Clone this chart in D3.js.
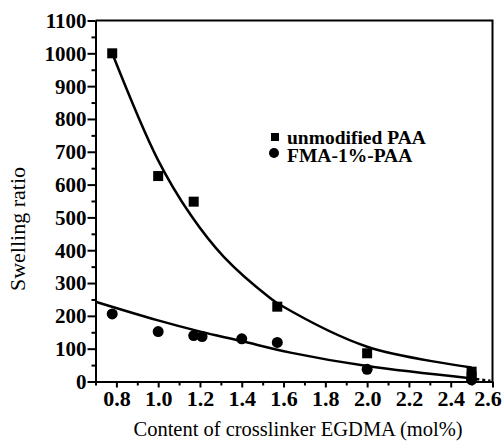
<!DOCTYPE html>
<html><head><meta charset="utf-8">
<script src="https://cdn.jsdelivr.net/npm/d3@7"></script>
<style>body{margin:0;background:#fff}svg{display:block}</style>
</head><body><svg id="c" width="503" height="446"></svg>
<script>
// Data
const unmodX = [0.78, 1.0, 1.17, 1.57, 2.0, 2.5, 2.5];
const unmodY = [1000, 626, 548, 228, 86, 30, 15];
const fmaX = [0.78, 1.0, 1.17, 1.21, 1.4, 1.57, 2.0, 2.5];
const fmaY = [206, 152, 140, 137, 130, 119, 37, 5];
// fitted curves
const fitUnmodX = [0.78, 0.995, 1.155, 1.314, 1.537, 1.585, 2.0, 2.5];
const fitUnmodY = [1000, 680, 508, 380, 254, 233, 106, 43];
const fitFmaX = [0.7, 0.995, 1.202, 1.394, 1.633, 2.0, 2.494];
const fitFmaY = [243, 187, 152, 124, 88, 47, 10];
const tailFmaX = [2.494, 2.59];
const tailFmaY = [10, 2];
const xTicks = [0.8, 1.0, 1.2, 1.4, 1.6, 1.8, 2.0, 2.2, 2.4, 2.6];
const yTicks = [0, 100, 200, 300, 400, 500, 600, 700, 800, 900, 1000, 1100];
const legendLabels = ["unmodified PAA", "FMA-1%-PAA"];

const FONT = "Liberation Serif";
const svg = d3.select("#c");
const x = d3.scaleLinear().domain([0.7, 2.6]).range([95.5, 492.5]);
const y = d3.scaleLinear().domain([0, 1100]).range([381.5, 20.5]);

// frame top/right
svg.append("path").attr("d", `M${x(0.7)},${y(1100)}H${x(2.6)}V${y(0)}`)
  .attr("fill","none").attr("stroke","#000").attr("stroke-width",2);

// x axis
const xa = svg.append("g").attr("transform",`translate(0,${y(0)})`)
  .call(d3.axisBottom(x).tickValues(xTicks).tickFormat(d3.format(".1f")).tickSize(6).tickSizeOuter(0));
const xm = svg.append("g").attr("transform",`translate(0,${y(0)})`)
  .call(d3.axisBottom(x).tickValues([0.7,0.9,1.1,1.3,1.5,1.7,1.9,2.1,2.3,2.5]).tickFormat("").tickSize(4).tickSizeOuter(0));
xm.select(".domain").remove();
xm.selectAll("text").remove();
// y axis
const ya = svg.append("g").attr("transform",`translate(${x(0.7)},0)`)
  .call(d3.axisLeft(y).tickValues(yTicks).tickFormat(d3.format("d")).tickSize(8).tickSizeOuter(0).tickPadding(1));
const ym = svg.append("g").attr("transform",`translate(${x(0.7)},0)`)
  .call(d3.axisLeft(y).tickValues(d3.range(50, 1100, 100)).tickFormat("").tickSize(4).tickSizeOuter(0));
ym.select(".domain").remove();
ym.selectAll("text").remove();
[xa,ya,xm,ym].forEach(g=>{g.attr("font-family", null);g.selectAll("line").attr("stroke","#000").attr("stroke-width",2);g.selectAll(".domain").attr("stroke","#000").attr("stroke-width",2);});
xa.selectAll("text").attr("font-family",FONT).attr("font-size",22).attr("font-weight","bold").attr("fill","#000").attr("dy","0").attr("y",24)
  .attr("dx", d => d === 2.6 ? -5 : 0);
ya.selectAll("text").attr("font-family",FONT).attr("font-size",21).attr("font-weight","bold").attr("fill","#000").attr("dy","0.33em");

// titles
svg.append("text").attr("x", 298).attr("y", 436).attr("text-anchor","middle").attr("font-family",FONT)
  .attr("font-size",20.5).text("Content of crosslinker EGDMA (mol%)");
svg.append("text").attr("transform","translate(25,229) rotate(-90)").attr("text-anchor","middle").attr("font-family",FONT)
  .attr("font-size",22).text("Swelling ratio");

// curves
const line = d3.line().x(d=>x(d[0])).y(d=>y(d[1])).curve(d3.curveCatmullRom);
svg.append("path").datum(d3.zip(fitUnmodX, fitUnmodY)).attr("d", line)
  .attr("fill","none").attr("stroke","#000").attr("stroke-width",2.5);
svg.append("path").datum(d3.zip(fitFmaX, fitFmaY)).attr("d", line)
  .attr("fill","none").attr("stroke","#000").attr("stroke-width",2.5);
svg.append("path").datum(d3.zip(tailFmaX, tailFmaY)).attr("d", d3.line().x(d=>x(d[0])).y(d=>y(d[1])))
  .attr("fill","none").attr("stroke","#000").attr("stroke-width",2.5).attr("stroke-dasharray","3,3");

// markers
const sq = 10;
svg.append("g").selectAll("rect").data(d3.zip(unmodX, unmodY)).join("rect")
  .attr("x", d=>x(d[0])-sq/2).attr("y", d=>y(d[1])-sq/2).attr("width",sq).attr("height",sq).attr("fill","#000");
svg.append("g").selectAll("circle").data(d3.zip(fmaX, fmaY)).join("circle")
  .attr("cx", d=>x(d[0])).attr("cy", d=>y(d[1])).attr("r",5.5).attr("fill","#000");

// legend
const lg = svg.append("g");
lg.append("rect").attr("x",271).attr("y",133).attr("width",8).attr("height",8).attr("fill","#000");
lg.append("circle").attr("cx",274).attr("cy",153).attr("r",5).attr("fill","#000");
lg.selectAll("text").data(legendLabels).join("text").attr("font-family",FONT)
  .attr("x",287).attr("y",(d,i)=>143.5+i*18.5).attr("font-size",19.5).attr("font-weight","bold").text(d=>d);
</script></body></html>
